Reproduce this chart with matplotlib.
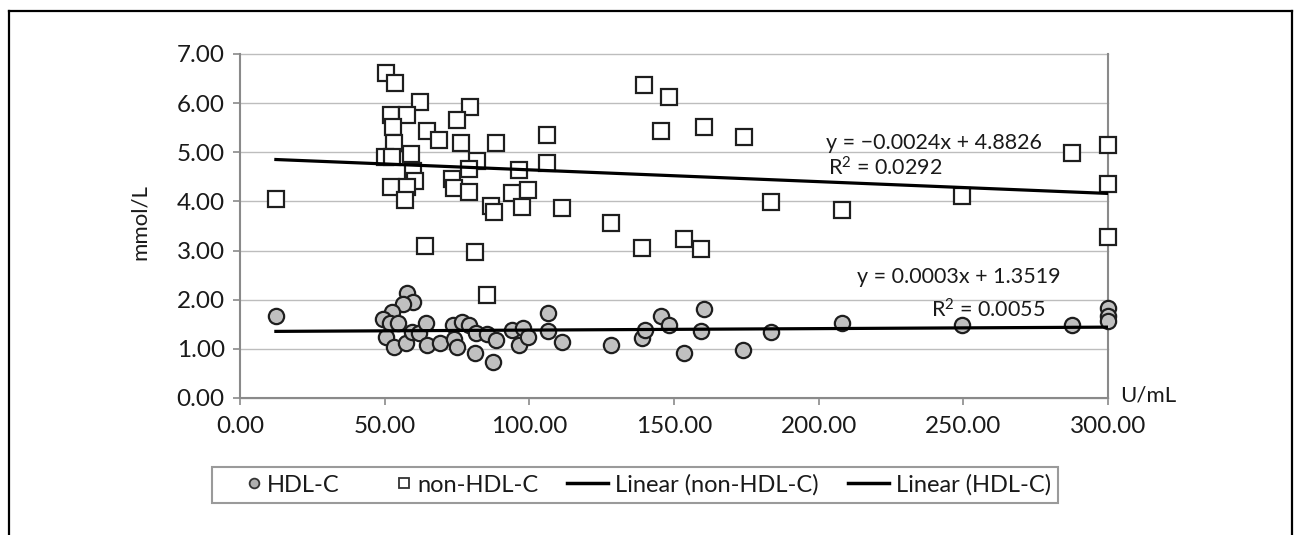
import matplotlib
matplotlib.use("Agg")
import matplotlib.pyplot as plt
from matplotlib.lines import Line2D
from matplotlib.legend_handler import HandlerBase
import numpy as np

plt.rcParams['font.family'] = ['Lato', 'DejaVu Sans']
plt.rcParams['mathtext.fontset'] = 'custom'
plt.rcParams['mathtext.rm'] = 'Lato'
plt.rcParams['mathtext.it'] = 'Lato:italic'
plt.rcParams['mathtext.bf'] = 'Lato:bold'

# ---- data ----
hdl_x = [12.4, 57.8, 59.9, 56.5, 52.4, 49.5, 51.9, 54.7, 50.5, 53.2, 57.3, 59.3, 62.0,
         64.2, 64.5, 69.1, 73.5, 76.6, 79.2, 74.0, 75.1, 81.6, 81.2, 85.3, 88.5, 87.6,
         93.9, 97.9, 96.6, 99.7, 106.4, 106.4, 111.4, 128.1, 138.8, 140.0, 145.5, 148.1,
         153.6, 159.2, 160.5, 173.9, 183.4, 208.0, 249.7, 287.7, 300.0, 300.0, 300.0]
hdl_y = [1.67, 2.14, 1.96, 1.91, 1.74, 1.60, 1.52, 1.52, 1.25, 1.03, 1.11, 1.35, 1.33,
         1.53, 1.08, 1.11, 1.49, 1.55, 1.49, 1.21, 1.03, 1.33, 0.91, 1.30, 1.18, 0.73,
         1.38, 1.42, 1.08, 1.25, 1.72, 1.36, 1.13, 1.08, 1.23, 1.38, 1.67, 1.49,
         0.91, 1.37, 1.81, 0.98, 1.34, 1.52, 1.49, 1.49, 1.83, 1.67, 1.56]

nonhdl_x = [12.4, 50.4, 53.6, 62.2, 52.1, 57.6, 52.8, 79.5, 75.1, 64.5, 68.9, 53.2, 76.4,
            88.4, 106.2, 59.0, 50.1, 52.5, 81.8, 106.2, 79.2, 96.4, 59.9, 60.5, 73.4,
            52.1, 57.6, 74.0, 79.2, 93.9, 99.7, 57.0, 86.7, 87.8, 97.6, 111.4, 63.9,
            81.2, 85.3, 139.8, 148.1, 145.5, 160.5, 174.3, 183.4, 208.0, 128.1, 138.8,
            153.6, 159.2, 287.7, 300.0, 300.0, 300.0, 249.7]
nonhdl_y = [4.04, 6.61, 6.42, 6.02, 5.76, 5.76, 5.51, 5.92, 5.66, 5.44, 5.25, 5.18, 5.18,
            5.18, 5.35, 4.96, 4.90, 4.90, 4.82, 4.79, 4.67, 4.63, 4.61, 4.42, 4.46,
            4.30, 4.29, 4.27, 4.19, 4.17, 4.23, 4.03, 3.91, 3.78, 3.89, 3.86, 3.09,
            2.98, 2.10, 6.36, 6.13, 5.43, 5.51, 5.32, 3.99, 3.83, 3.57, 3.05,
            3.24, 3.03, 4.99, 5.15, 4.35, 3.27, 4.12]

# trend line coefficients as printed on the chart
nonhdl_slope, nonhdl_intercept, nonhdl_r2 = -0.0024, 4.8826, 0.0292
hdl_slope, hdl_intercept, hdl_r2 = 0.0003, 1.3519, 0.0055

x_ticks = [0, 50, 100, 150, 200, 250, 300]
y_ticks = [0, 1, 2, 3, 4, 5, 6, 7]

TXT = '#1a1a1a'
W, H = 1295, 535
fig = plt.figure(figsize=(W / 100, H / 100), dpi=100)

def fx(px):
    return px / W

def fy(py):
    return 1 - py / H

ax = fig.add_axes([fx(240), fy(398), fx(1108) - fx(240), fy(54) - fy(398)])
ax.set_xlim(0, 300)
ax.set_ylim(0, 7)

# markers
ax.plot(hdl_x, hdl_y, linestyle='none', marker='o', markersize=11,
        markerfacecolor='#c0c0c0', markeredgecolor='#1e1e1e', markeredgewidth=1.6,
        zorder=3, clip_on=False)
ax.plot(nonhdl_x, nonhdl_y, linestyle='none', marker='s', markersize=12,
        markerfacecolor='white', markeredgecolor='#1e1e1e', markeredgewidth=1.6,
        zorder=3, clip_on=False)

# trend lines
tx = np.array([min(nonhdl_x), max(nonhdl_x)])
ax.plot(tx, nonhdl_slope * tx + nonhdl_intercept, color='black', lw=2.3, zorder=4)
tx2 = np.array([min(hdl_x), max(hdl_x)])
ax.plot(tx2, hdl_slope * tx2 + hdl_intercept, color='black', lw=2.3, zorder=4)

# grid / spines / ticks
ax.set_yticks(y_ticks)
ax.set_xticks(x_ticks)
ax.set_yticklabels([f"{v:.2f}" for v in y_ticks])
ax.set_xticklabels([f"{v:.2f}" for v in x_ticks])
ax.yaxis.grid(True, color='#bdbdbd', lw=1.0, zorder=0)
ax.set_axisbelow(True)
for g in ax.get_ygridlines():
    g.set_clip_on(False)
ax.spines['top'].set_visible(False)
for s in ['left', 'bottom', 'right']:
    ax.spines[s].set_color('#8a8a8a')
    ax.spines[s].set_linewidth(1.5)
ax.tick_params(axis='both', colors='#8a8a8a', length=5, width=1.2,
               labelcolor=TXT, labelsize=17.5)
ax.tick_params(axis='y', pad=6)
ax.tick_params(axis='x', pad=8)
ax.set_facecolor('white')

# axis titles
fig.text(fx(140), fy(222), 'mmol/L', rotation=90, ha='center', va='center',
         fontsize=16, color=TXT)
fig.text(fx(1120), fy(395), 'U/mL', ha='left', va='center', fontsize=16,
         color=TXT)

# equations
EQ = 15.5
fig.text(fx(826), fy(143), f'y = \u2212{abs(nonhdl_slope):.4f}x + {nonhdl_intercept:.4f}',
         ha='left', va='center', fontsize=EQ, color=TXT)
fig.text(fx(828), fy(168), f'R$^{{2}}$ = {nonhdl_r2:.4f}', ha='left', va='center',
         fontsize=EQ, color=TXT)
fig.text(fx(857), fy(277), f'y = {hdl_slope:.4f}x + {hdl_intercept:.4f}',
         ha='left', va='center', fontsize=EQ, color=TXT)
fig.text(fx(931), fy(310), f'R$^{{2}}$ = {hdl_r2:.4f}', ha='left', va='center',
         fontsize=EQ, color=TXT)


class RightMarkerHandler(HandlerBase):
    """Legend handler drawing a marker at the right end of the handle box."""
    def create_artists(self, legend, orig_handle, xdescent, ydescent, width,
                       height, fontsize, trans):
        m = Line2D([width - xdescent - 4], [(height - ydescent) / 2.0],
                   linestyle='none', marker=orig_handle.get_marker(),
                   markersize=orig_handle.get_markersize(),
                   markerfacecolor=orig_handle.get_markerfacecolor(),
                   markeredgecolor=orig_handle.get_markeredgecolor(),
                   markeredgewidth=orig_handle.get_markeredgewidth())
        m.set_transform(trans)
        return [m]


# legend
h_hdl = Line2D([], [], linestyle='none', marker='o', markersize=7, markerfacecolor='#b0b0b0',
               markeredgecolor='#333333', markeredgewidth=1.3)
h_non = Line2D([], [], linestyle='none', marker='s', markersize=7, markerfacecolor='white',
               markeredgecolor='#333333', markeredgewidth=1.3)
handles = [h_hdl, h_non,
           Line2D([], [], color='black', lw=2.5),
           Line2D([], [], color='black', lw=2.5)]
labels = ['HDL-C', 'non-HDL-C', 'Linear (non-HDL-C)', 'Linear (HDL-C)']
leg = fig.legend(handles, labels, loc='center',
                 bbox_to_anchor=(fx((217 + 1053) / 2), fy(485)), ncol=4,
                 fontsize=17, frameon=True, fancybox=False, framealpha=1,
                 edgecolor='#9a9a9a', handlelength=1.75, handletextpad=0.3,
                 columnspacing=1.22, borderpad=0.3,
                 handler_map={h_hdl: RightMarkerHandler(), h_non: RightMarkerHandler()})
leg.get_frame().set_linewidth(1.5)
for t in leg.get_texts():
    t.set_color(TXT)

# outer frame (top, left, right)
frame_kw = dict(color='black', lw=1.6, transform=fig.transFigure)
fig.add_artist(Line2D([fx(8.5), fx(8.5)], [0, fy(10.5)], **frame_kw))
fig.add_artist(Line2D([fx(8.5), fx(1292)], [fy(10.5), fy(10.5)], **frame_kw))
fig.add_artist(Line2D([fx(1292), fx(1292)], [fy(10.5), 0], **frame_kw))

fig.savefig('out.png', dpi=100, facecolor='white')
